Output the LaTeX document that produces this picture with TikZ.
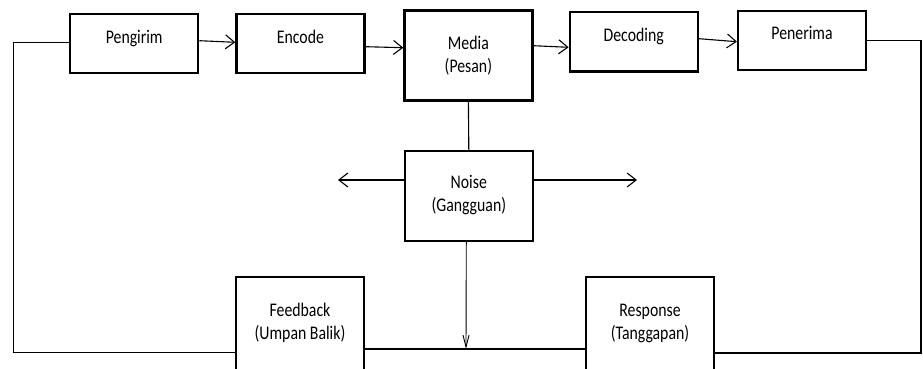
\documentclass[tikz,border=0pt]{standalone}
\usepackage{fontspec}
\usepackage{graphicx}
\setmainfont{Carlito}
\usetikzlibrary{arrows.meta}

\newcommand\tinggi[1]{\scalebox{1}[1.22]{#1}}
\tikzset{
  blok/.style={draw, line width=2.2pt, minimum width=128pt, inner sep=0pt},
  teks/.style={anchor=base, align=center, font=\fontsize{15.8}{23}\selectfont},
  garis/.style={line width=1.1pt},
  panah/.style={garis, -{Straight Barb[length=9pt,width=14pt]}},
  panahbawah/.style={line width=0.9pt, -{Straight Barb[length=12pt,width=6pt]}},
}

\begin{document}
\begin{tikzpicture}[x=1pt, y=-1pt]
    \useasboundingbox (0,0) rectangle (923,369);
    \clip (0,0) rectangle (923,369);
\node[blok, minimum height=59pt, label={[teks,yshift=-30pt]north:\tinggi{Pengirim}}] (pengirim) at (134.2,43.7) {}; % Pengirim
\node[blok, minimum height=59pt, label={[teks,yshift=-30pt]north:\tinggi{Encode}}] (encode) at (300.4,43.7) {}; % Encode
\node[blok, minimum height=90pt, label={[teks,yshift=-63pt]north:{\tinggi{Media}\\\tinggi{(Pesan)}}}] (media) at (468.4,55.5) {}; % Media
\node[blok, minimum height=59pt, label={[teks,yshift=-30pt]north:\tinggi{Decoding}}] (decoding) at (633.7,41.9) {}; % Decoding
\node[blok, minimum height=59pt, label={[teks,yshift=-30pt]north:\tinggi{Penerima}}] (penerima) at (802,40.2) {}; % Penerima
\node[blok, minimum height=90pt, label={[teks,yshift=-62pt]north:{\tinggi{Noise}\\\tinggi{(Gangguan)}}}] (noise) at (468.8,195.9) {}; % Noise
\node[blok, minimum height=130pt, label={[teks,yshift=-64pt]north:{\tinggi{Feedback}\\\tinggi{(Umpan Balik)}}}] (feedback) at (300,342) {}; % Feedback
\node[blok, minimum height=130pt, label={[teks,yshift=-64pt]north:{\tinggi{Response}\\\tinggi{(Tanggapan)}}}] (response) at (650,342) {}; % Response
\coordinate (kiri) at (338,180);
\coordinate (kanan) at (637,180);
\coordinate (temu) at (466,349);
\draw[panah] ([yshift=3pt]pengirim.east) -- ([yshift=1.4pt]encode.west) ;
\draw[panah] ([yshift=-3pt]encode.east) -- ([yshift=7.8pt]media.west) ;
\draw[panah] ([yshift=9.8pt]media.east) -- ([yshift=-5.4pt]decoding.west) ;
\draw[panah] ([yshift=3.2pt]decoding.east) -- ([yshift=-1.5pt]penerima.west) ;
\draw[garis] (media.south) -- (noise.north) ;
\draw[panah] ([yshift=15.9pt]noise.west) -- (kiri) ; % noise ke kiri
\draw[panah] ([yshift=15.9pt]noise.east) -- (kanan) ; % noise ke kanan
\draw[panahbawah] ([xshift=-2.5pt]noise.south) -- (temu) ;
\draw[garis] ([yshift=1.4pt]pengirim.west) -- (13.5,42.3) -- (13.5,352.5) -- ([yshift=-10.5pt]feedback.west) ; % umpan balik kiri
\draw[garis] ([yshift=-7pt]feedback.east) -- ([yshift=-7pt]response.west) ;
\draw[garis] ([yshift=-0.5pt]penerima.east) -- (921,40.7) -- (921,353) -- ([yshift=-11pt]response.east) ; % umpan balik kanan
\end{tikzpicture}
\end{document}
